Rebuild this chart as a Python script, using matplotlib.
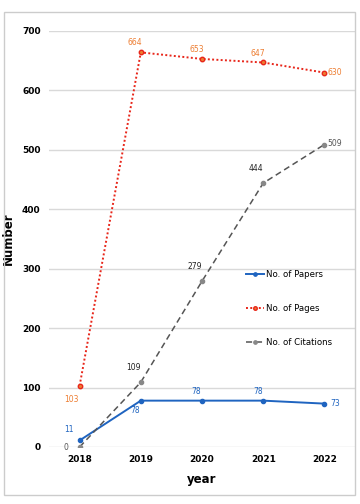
import matplotlib
matplotlib.use('Agg')
from matplotlib import pyplot as plt
from matplotlib.patches import Rectangle

plt.rcParams['font.family'] = ['Liberation Sans Narrow', 'DejaVu Sans']

years = [2018, 2019, 2020, 2021, 2022]
papers = [11, 78, 78, 78, 73]
pages = [103, 664, 653, 647, 630]
citations = [0, 109, 279, 444, 509]

blue = '#1F64C0'
red = '#E8261A'
orange = '#ED7D31'
gray = '#555555'

fig = plt.figure(figsize=(3.6, 5.04), dpi=100)
ax = fig.add_axes([49/360, 57/504, 306/360, 416/504])

ax.plot(years, papers, color=blue, lw=1.4, marker='o', ms=3, mfc=blue, mec=blue, label='No. of Papers')
ax.plot(years, pages, color=red, lw=1.4, ls=(0, (1, 1.2)), marker='o', ms=3.2, mfc=orange, mec=red, label='No. of Pages')
ax.plot(years, citations, color=gray, lw=1.1, ls=(0, (4, 2.5)), marker='o', ms=3, mfc='#888888', mec='#888888', label='No. of Citations')

fs = 5.5
# papers labels
ax.annotate('11', (2018, 11), xytext=(-8, 6), textcoords='offset points', color=blue, fontsize=fs, ha='center')
ax.annotate('78', (2019, 78), xytext=(-4, -9), textcoords='offset points', color=blue, fontsize=fs, ha='center')
ax.annotate('78', (2020, 78), xytext=(-4, 5), textcoords='offset points', color=blue, fontsize=fs, ha='center')
ax.annotate('78', (2021, 78), xytext=(-4, 5), textcoords='offset points', color=blue, fontsize=fs, ha='center')
ax.annotate('73', (2022, 73), xytext=(4, -2), textcoords='offset points', color=blue, fontsize=fs, ha='left')
# pages labels
ax.annotate('103', (2018, 103), xytext=(-6, -12), textcoords='offset points', color=orange, fontsize=fs, ha='center')
for y, v in zip(years[1:4], pages[1:4]):
    ax.annotate(str(v), (y, v), xytext=(-4, 5), textcoords='offset points', color=orange, fontsize=fs, ha='center')
ax.annotate('630', (2022, 630), xytext=(2, -2), textcoords='offset points', color=orange, fontsize=fs, ha='left')
# citations labels
ax.annotate('0', (2018, 0), xytext=(-10, -2), textcoords='offset points', color=gray, fontsize=fs, ha='center')
for y, v in zip(years[1:4], citations[1:4]):
    ax.annotate(str(v), (y, v), xytext=(-5, 9), textcoords='offset points', color='#222222', fontsize=fs, ha='center')
ax.annotate('509', (2022, 509), xytext=(2, -1), textcoords='offset points', color=gray, fontsize=fs, ha='left')

ax.set_xlim(2017.5, 2022.5)
ax.set_ylim(0, 700)
ax.set_yticks(range(0, 701, 100))
ax.set_xticks(years)
ax.grid(axis='y', color='#D9D9D9', lw=1)
ax.set_axisbelow(True)
for s in ax.spines.values():
    s.set_visible(False)
ax.tick_params(length=0, labelsize=6.5, pad=6)
for t in ax.get_xticklabels() + ax.get_yticklabels():
    t.set_fontweight('bold')
ax.set_xlabel('year', fontsize=8.5, fontweight='bold', labelpad=6)
ax.set_ylabel('Number', fontsize=8.5, fontweight='bold')
ax.yaxis.set_label_coords(-0.11, 0.5)

ax.legend(loc='upper left', bbox_to_anchor=(0.62, 0.445), frameon=False, fontsize=6.2,
          labelspacing=2.9, handlelength=2.0, handletextpad=0.3, markerscale=0.8)

fig.patches.append(Rectangle((4/360, 9/504), 351/360, 483/504, transform=fig.transFigure,
                             fill=False, ec='#CCCCCC', lw=1))

fig.savefig('out.png', dpi=100)
